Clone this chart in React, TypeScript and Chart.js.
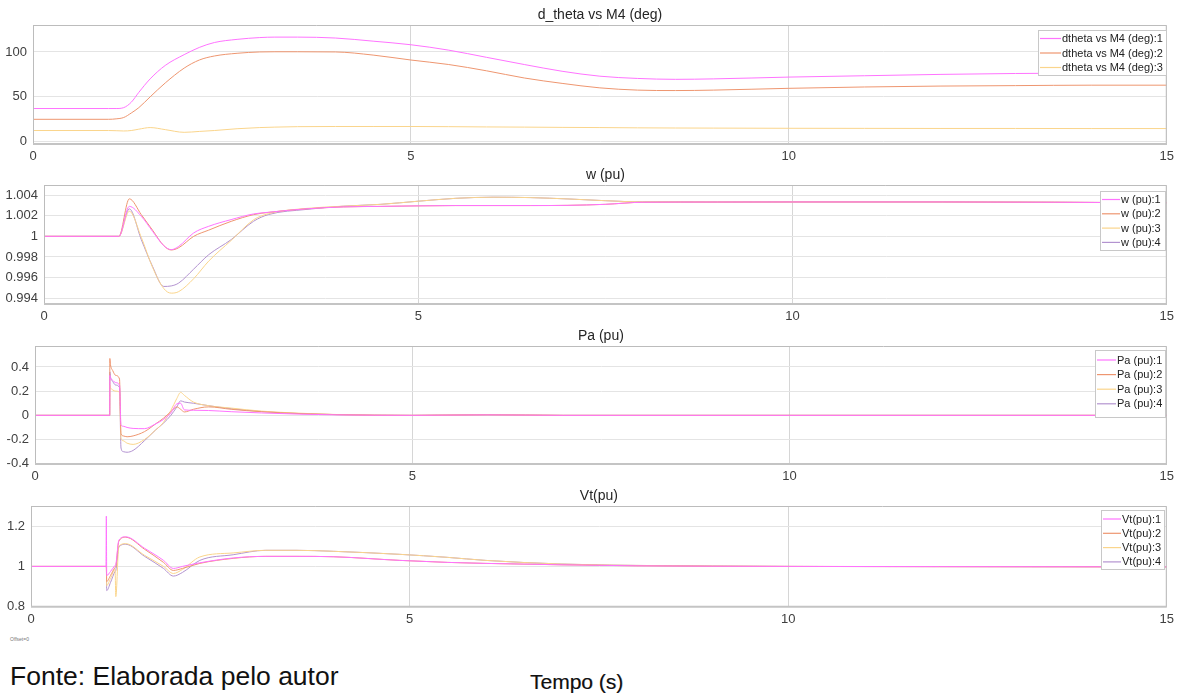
import React, { useEffect, useRef } from 'react';
import { Chart, registerables } from 'chart.js';
Chart.register(...registerables);

const PAGE_W = 1179;
const FONT = '"Liberation Sans", Arial, Helvetica, sans-serif';
const COLORS = ['#ff73ff', '#ee9670', '#fad58c', '#b393d0'];

// ---------- shared axis ----------
const xTicks = [0, 5, 10, 15];

// ---------- d_theta vs M4 (deg) ----------
const dthetaTime = [0, 1.0, 1.1, 1.2, 1.3, 1.4, 1.55, 1.75, 2.0, 2.2, 2.4, 2.7, 3.0, 3.2, 3.5, 4.0, 4.5, 5.0, 5.5, 6.0, 6.5, 7.0, 7.5, 8.0, 8.5, 9.0, 10.0, 11.0, 12.0, 13.0, 14.0, 15.0];
const dtheta1 = [37, 37, 37, 38, 44, 55, 70, 85, 97, 105, 110.5, 114, 116, 116.5, 116.5, 115.5, 112, 108, 102, 94, 86, 78.5, 73, 70.5, 69.5, 70, 72, 73.5, 75, 76, 76.5, 77];
const dtheta2 = [25, 25, 25.5, 27, 32, 38, 50, 65.5, 82, 91, 95.5, 98.5, 100, 100.2, 100.2, 100, 96.5, 91, 86, 79, 71, 65, 60, 57.5, 57, 57.5, 59.5, 61, 62, 62.5, 63, 63];
const dtheta3 = [12.5, 12.5, 12.3, 12, 12.5, 14, 15.8, 13.5, 10.5, 11.5, 12.5, 14.5, 15.8, 16.3, 16.8, 17, 17, 17, 16.8, 16.5, 16.3, 16, 15.8, 15.5, 15.3, 15.2, 15, 14.9, 14.8, 14.8, 14.7, 14.7];
const dthetaTicks = [0, 50, 100];
const dthetaLabels = ['dtheta vs M4 (deg):1', 'dtheta vs M4 (deg):2', 'dtheta vs M4 (deg):3'];

// ---------- w (pu) ----------
const wTime = [0, 1.0, 1.14, 1.3, 1.45, 1.6, 1.7, 1.8, 2.0, 2.2, 2.5, 2.8, 3.0, 3.5, 4.0, 4.5, 5.0, 5.5, 6.0, 6.5, 7.0, 7.5, 8.0, 9.0, 10.0, 12.0, 15.0];
const w1 = [1, 1, 1.0029, 1.00194, 1.00049, 0.9991, 0.99871, 0.99903, 1.00033, 1.00097, 1.00162, 1.00217, 1.00233, 1.00266, 1.00285, 1.0029, 1.00295, 1.00298, 1.00298, 1.00298, 1.003, 1.0031, 1.0033, 1.00332, 1.00333, 1.00333, 1.00325];
const w2 = [1, 1, 1.00363, 1.0021, 1.0006, 0.9991, 0.99868, 0.9989, 1.0, 1.0006, 1.00145, 1.0021, 1.00232, 1.00266, 1.00285, 1.0029, 1.00295, 1.00298, 1.00298, 1.00298, 1.003, 1.0031, 1.0033, 1.00332, 1.00333, 1.00333, 1.00325];
const w3 = [1, 1, 1.00243, 0.9999, 0.997, 0.99495, 0.9945, 0.99465, 0.9959, 0.9976, 0.9996, 1.0016, 1.0022, 1.0027, 1.00292, 1.0031, 1.0034, 1.00368, 1.00379, 1.00375, 1.00362, 1.00345, 1.00333, 1.00332, 1.00333, 1.00333, 1.00325];
const w4 = [1, 1, 1.00266, 0.99968, 0.99709, 0.99515, 0.9952, 0.99548, 0.99683, 0.99822, 0.99968, 1.00146, 1.00211, 1.0026, 1.00292, 1.0031, 1.0034, 1.00368, 1.00379, 1.00375, 1.00362, 1.00345, 1.00333, 1.00332, 1.00333, 1.00333, 1.00325];
const wTicks = [0.994, 0.996, 0.998, 1, 1.002, 1.004];
const wLabels = ['w (pu):1', 'w (pu):2', 'w (pu):3', 'w (pu):4'];

// ---------- Pa (pu) ----------
const paTime = [0, 0.99, 0.992, 1.0, 1.03, 1.07, 1.12, 1.14, 1.17, 1.22, 1.3, 1.45, 1.6, 1.7, 1.8, 1.88, 1.93, 1.98, 2.1, 2.3, 2.6, 3.0, 3.5, 4.0, 5.0, 6.0, 7.0, 10.0, 15.0];
const pa1 = [0, 0, 0.33, 0.31, 0.29, 0.27, 0.25, -0.08, -0.09, -0.1, -0.108, -0.11, -0.07, -0.035, 0.02, 0.095, 0.1, 0.045, 0.042, 0.04, 0.03, 0.02, 0.01, 0.004, 0, 0.004, 0, 0, 0];
const pa2 = [0, 0, 0.47, 0.42, 0.37, 0.33, 0.3, -0.15, -0.17, -0.177, -0.17, -0.135, -0.07, -0.025, 0.03, 0.07, 0.05, 0.028, 0.05, 0.07, 0.05, 0.03, 0.015, 0.006, 0, 0.005, 0, 0, 0];
const pa3 = [0, 0, 0.25, 0.23, 0.21, 0.2, 0.19, -0.19, -0.21, -0.23, -0.24, -0.2, -0.12, -0.06, 0.04, 0.14, 0.19, 0.165, 0.11, 0.08, 0.06, 0.035, 0.018, 0.007, 0, 0.005, 0, 0, 0];
const pa4 = [0, 0, 0.36, 0.32, 0.28, 0.25, 0.23, -0.27, -0.3, -0.305, -0.29, -0.21, -0.12, -0.066, 0.0, 0.07, 0.12, 0.11, 0.1, 0.08, 0.055, 0.032, 0.015, 0.006, 0, 0.004, 0, 0, 0];
const paTicks = [-0.4, -0.2, 0, 0.2, 0.4];
const paLabels = ['Pa (pu):1', 'Pa (pu):2', 'Pa (pu):3', 'Pa (pu):4'];

// ---------- Vt(pu) ----------
const vtTime = [0, 0.99, 0.995, 1.0, 1.05, 1.11, 1.12, 1.16, 1.25, 1.5, 1.75, 1.88, 2.0, 2.23, 2.67, 3.1, 3.5, 4.0, 4.87, 5.5, 6.0, 7.0, 8.0, 10.0, 12.0, 15.0];
const vt1 = [1, 1, 1.25, 0.955, 0.975, 1.005, 1.01, 1.13, 1.147, 1.09, 1.03, 0.99, 1.0, 1.018, 1.042, 1.05, 1.05, 1.048, 1.03, 1.02, 1.015, 1.008, 1.003, 1.0, 0.999, 0.998];
const vt2 = [1, 1, 1, 0.925, 0.955, 0.995, 1.0, 1.125, 1.145, 1.085, 1.02, 0.98, 0.99, 1.015, 1.04, 1.05, 1.05, 1.048, 1.03, 1.02, 1.015, 1.008, 1.003, 1.0, 0.999, 0.998];
const vt3 = [1, 1, 1, 0.905, 0.94, 0.985, 0.85, 1.1, 1.113, 1.055, 1.0, 0.965, 0.985, 1.047, 1.067, 1.08, 1.08, 1.075, 1.06, 1.045, 1.03, 1.012, 1.005, 1.0, 0.999, 0.998];
const vt4 = [1, 1, 1, 0.88, 0.92, 0.975, 0.98, 1.095, 1.11, 1.05, 0.99, 0.952, 0.97, 1.03, 1.058, 1.08, 1.08, 1.075, 1.06, 1.045, 1.03, 1.012, 1.005, 1.0, 0.999, 0.998];
const vtTicks = [0.8, 1, 1.2];
const vtLabels = ['Vt(pu):1', 'Vt(pu):2', 'Vt(pu):3', 'Vt(pu):4'];

type Panel = {
  title: string;
  band: [number, number];
  area: { l: number; r: number; t: number; b: number };
  yMin: number;
  yMax: number;
  yTicks: number[];
  time: number[];
  series: number[][];
  labels: string[];
  legend: { x: number; y: number; w: number; h: number; row0: number; step: number; line: number };
};

const panels: Panel[] = [
  {
    title: 'd_theta vs M4 (deg)', band: [0, 165], area: { l: 33, r: 1167, t: 25, b: 144 },
    yMin: -2.5, yMax: 130, yTicks: dthetaTicks, time: dthetaTime,
    series: [dtheta1, dtheta2, dtheta3], labels: dthetaLabels,
    legend: { x: 1038, y: 30, w: 129, h: 46, row0: 38.5, step: 14.5, line: 21 },
  },
  {
    title: 'w (pu)', band: [165, 325], area: { l: 44, r: 1170, t: 185, b: 304 },
    yMin: 0.99345, yMax: 1.00497, yTicks: wTicks, time: wTime,
    series: [w1, w2, w3, w4], labels: wLabels,
    legend: { x: 1100, y: 191, w: 66, h: 60, row0: 199.5, step: 14.3, line: 18 },
  },
  {
    title: 'Pa (pu)', band: [325, 485], area: { l: 35, r: 1168, t: 346, b: 464 },
    yMin: -0.402, yMax: 0.573, yTicks: paTicks, time: paTime,
    series: [pa1, pa2, pa3, pa4], labels: paLabels,
    legend: { x: 1095, y: 350, w: 71, h: 68, row0: 360, step: 14.6, line: 19 },
  },
  {
    title: 'Vt(pu)', band: [485, 630], area: { l: 31, r: 1168, t: 506, b: 606.7 },
    yMin: 0.8, yMax: 1.3, yTicks: vtTicks, time: vtTime,
    series: [vt1, vt2, vt3, vt4], labels: vtLabels,
    legend: { x: 1101, y: 510, w: 64, h: 60, row0: 519, step: 14.3, line: 18 },
  },
];

const X_AXIS_H = 20;

function decorPlugin(p: Panel) {
  return {
    id: 'decor',
    afterDraw(chart: any) {
      const { ctx, chartArea: a } = chart;
      const off = p.band[0];
      ctx.save();
      // axes box
      ctx.strokeStyle = '#bcbcbc';
      ctx.lineWidth = 1;
      ctx.beginPath();
      ctx.moveTo(a.left + 0.5, a.bottom);
      ctx.lineTo(a.left + 0.5, a.top + 0.5);
      ctx.lineTo(a.right - 0.5, a.top + 0.5);
      ctx.lineTo(a.right - 0.5, a.bottom);
      ctx.stroke();
      ctx.strokeStyle = '#c4c4c4';
      ctx.lineWidth = 2;
      ctx.beginPath();
      ctx.moveTo(a.left, a.bottom);
      ctx.lineTo(a.right, a.bottom);
      ctx.stroke();
      // title
      ctx.fillStyle = '#262626';
      ctx.font = '14px ' + FONT;
      ctx.textAlign = 'center';
      ctx.textBaseline = 'middle';
      ctx.fillText(p.title, (a.left + a.right) / 2, a.top - 10);
      // legend
      const L = p.legend;
      ctx.fillStyle = '#ffffff';
      ctx.fillRect(L.x, L.y - off, L.w, L.h);
      ctx.strokeStyle = '#c8c8c8';
      ctx.lineWidth = 1;
      ctx.strokeRect(L.x + 0.5, L.y - off + 0.5, L.w - 1, L.h - 1);
      ctx.font = '11px ' + FONT;
      ctx.textAlign = 'left';
      ctx.textBaseline = 'middle';
      p.labels.forEach((lab, i) => {
        const y = L.row0 - off + i * L.step;
        ctx.strokeStyle = COLORS[i];
        ctx.lineWidth = 1.2;
        ctx.beginPath();
        ctx.moveTo(L.x + 2, y);
        ctx.lineTo(L.x + 2 + L.line, y);
        ctx.stroke();
        ctx.fillStyle = '#222222';
        ctx.fillText(lab, L.x + 3 + L.line, y + 0.5);
      });
      ctx.restore();
    },
  };
}

const fmt = (v: any) => String(+Number(v).toFixed(6));

function PanelChart({ p }: { p: Panel }) {
  const ref = useRef<HTMLCanvasElement>(null);
  useEffect(() => {
    const h = p.band[1] - p.band[0];
    const chart = new Chart(ref.current as HTMLCanvasElement, {
      type: 'line',
      data: {
        datasets: p.series.map((ys, i) => ({
          label: p.labels[i],
          data: p.time.map((t, j) => ({ x: t, y: ys[j] })),
          borderColor: COLORS[i],
          backgroundColor: COLORS[i],
          borderWidth: 1,
          pointRadius: 0,
          fill: false,
          cubicInterpolationMode: 'monotone' as const,
        })),
      },
      options: {
        responsive: false,
        animation: false,
        devicePixelRatio: 1,
        layout: {
          padding: {
            left: 0,
            right: PAGE_W - p.area.r,
            top: p.area.t - p.band[0],
            bottom: Math.max(0, h - (p.area.b - p.band[0]) - X_AXIS_H),
          },
        },
        plugins: {
          legend: { display: false },
          title: { display: false },
          tooltip: { enabled: false },
        },
        scales: {
          x: {
            type: 'linear',
            min: 0,
            max: 15,
            afterBuildTicks: (s: any) => { s.ticks = xTicks.map((v) => ({ value: v })); },
            afterFit: (s: any) => { s.height = X_AXIS_H; },
            grid: { color: '#d6d6d6', lineWidth: 1, drawTicks: false },
            border: { display: true, color: '#c4c4c4', width: 1 },
            ticks: { padding: 5, color: '#404040', font: { size: 13, family: FONT }, maxRotation: 0, autoSkip: false, callback: fmt },
          },
          y: {
            type: 'linear',
            min: p.yMin,
            max: p.yMax,
            afterBuildTicks: (s: any) => { s.ticks = p.yTicks.map((v) => ({ value: v })); },
            afterFit: (s: any) => { s.width = p.area.l; },
            grid: { color: '#e4e4e4', lineWidth: 1, drawTicks: false },
            border: { display: true, color: '#bcbcbc', width: 1 },
            ticks: { padding: 6, color: '#404040', font: { size: 13, family: FONT }, autoSkip: false, callback: fmt },
          },
        },
      },
      plugins: [decorPlugin(p)],
    } as any);
    return () => chart.destroy();
  }, [p]);
  const h = p.band[1] - p.band[0];
  return (
    <canvas
      ref={ref}
      width={PAGE_W}
      height={h}
      style={{ position: 'absolute', left: 0, top: p.band[0], width: PAGE_W, height: h }}
    />
  );
}

export default function App() {
  return (
    <div style={{ position: 'fixed', left: 0, top: 0, width: PAGE_W, height: 693, background: '#ffffff', overflow: 'hidden', fontFamily: FONT }}>
      {panels.map((p, i) => (
        <PanelChart key={i} p={p} />
      ))}
      <div style={{ position: 'absolute', left: 10, top: 636, fontSize: 5, color: '#777777' }}>Offset=0</div>
      <div style={{ position: 'absolute', left: 10, top: 660, fontSize: 26.5, lineHeight: '32px', color: '#111' }}>Fonte: Elaborada pelo autor</div>
      <div style={{ position: 'absolute', left: 530, top: 669, fontSize: 21, lineHeight: '26px', color: '#111', textShadow: '0.4px 0.4px 0.6px #aaa' }}>Tempo (s)</div>
    </div>
  );
}
